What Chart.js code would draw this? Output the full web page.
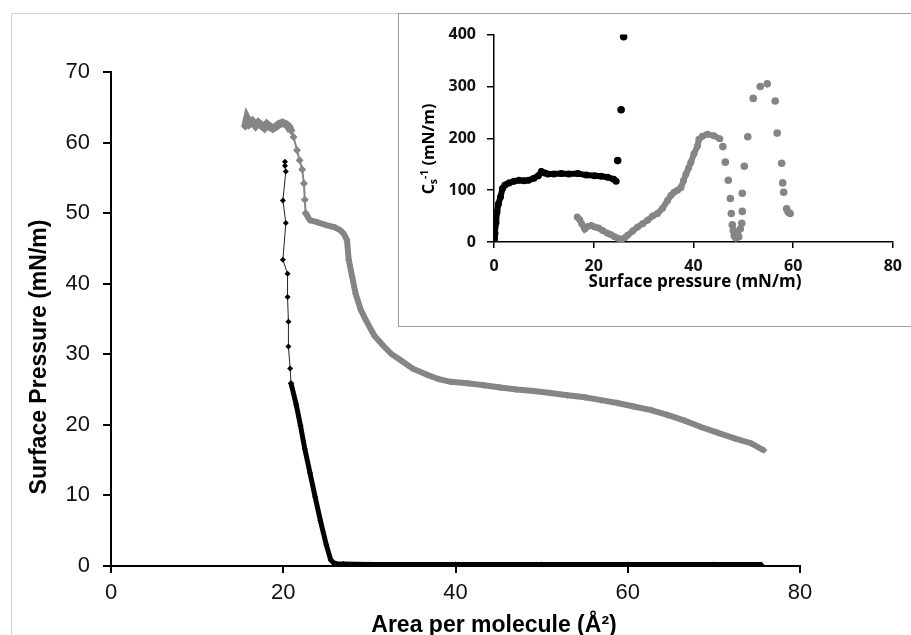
<!DOCTYPE html>
<html lang="en">
<head>
  <meta charset="UTF-8" />
  <title>Surface pressure isotherm</title>
  <script src="https://cdn.jsdelivr.net/npm/chart.js"></script>
  <style>
    body { margin: 0; background: #fff; width: 911px; height: 635px; overflow: hidden; position: relative; }
    #frame { position: absolute; left: 11px; top: 13px; width: 1000px; height: 700px; border: 1px solid #d2d2d2; }
    #mainChart { position: absolute; left: 0; top: 0; }
    #insetBox { position: absolute; left: 398px; top: 13px; width: 600px; height: 312px; border: 1px solid #9c9c9c; background: #fff; }
    #insetChart { position: absolute; left: 0; top: 0; }
  </style>
</head>
<body>

  <div id="frame"></div>
  <canvas id="mainChart" width="911" height="635"></canvas>
  <div id="insetBox">
    <canvas id="insetChart" width="512" height="312"></canvas>
  </div>

  <script>
    // ---- main isotherm: area per molecule vs surface pressure ----
    const mainXTicks = [0, 20, 40, 60, 80];
    const mainYTicks = [0, 10, 20, 30, 40, 50, 60, 70];

    // gray curve, noisy collapse region at the top
    const grayTopArea = [15.6, 15.8, 16.1, 16.4, 16.8, 17.1, 17.4, 17.8, 18.1, 18.5, 18.8, 19.2, 19.5, 19.9, 20.3, 20.6, 20.9];
    const grayTopPressure = [62.3, 63.4, 62.7, 63.0, 62.4, 62.8, 62.5, 62.1, 62.6, 62.2, 62.0, 62.3, 62.6, 62.8, 62.6, 62.3, 61.7];
    // gray curve, step down
    const graySparseArea = [20.9, 21.2, 21.6, 21.9, 22.2, 22.4, 22.5, 22.6];
    const graySparsePressure = [61.7, 60.8, 58.9, 57.5, 56.2, 54.2, 51.9, 50.0];
    // gray curve, plateau and expanded part
    const grayDenseArea = [22.6, 23.1, 24.0, 25.0, 26.0, 26.6, 27.0, 27.4, 27.6, 28.0, 28.4, 29.0, 29.7, 30.6, 31.7, 32.6, 33.6, 35.0, 36.7, 38.0, 39.4, 41.4, 43.3, 45.2, 47.1, 49.1, 51.0, 53.0, 55.0, 56.9, 58.8, 60.7, 62.7, 64.6, 66.6, 68.5, 70.4, 72.4, 74.3, 75.8];
    const grayDensePressure = [50.0, 49.0, 48.7, 48.3, 48.0, 47.6, 47.1, 46.2, 43.4, 41.0, 38.6, 36.3, 34.6, 32.6, 31.1, 30.0, 29.2, 28.0, 27.1, 26.5, 26.1, 25.9, 25.6, 25.3, 25.0, 24.8, 24.5, 24.2, 23.9, 23.5, 23.1, 22.6, 22.1, 21.4, 20.6, 19.7, 18.9, 18.1, 17.4, 16.4];

    // black curve, dense part
    const blackDenseArea = [75.5, 70.0, 60.0, 50.0, 40.0, 30.0, 27.0, 26.2, 25.8, 25.5, 25.0, 24.3, 23.7, 23.1, 22.5, 22.0, 21.5, 20.9];
    const blackDensePressure = [0.2, 0.2, 0.2, 0.2, 0.2, 0.2, 0.3, 0.3, 0.5, 0.9, 3.0, 6.5, 9.8, 13.2, 16.6, 19.9, 22.9, 25.9];
    // black curve, sparse points up to collapse
    const blackSparseArea = [20.9, 20.8, 20.6, 20.6, 20.5, 20.5, 19.96, 20.3, 19.96, 20.3, 20.2, 20.2];
    const blackSparsePressure = [25.9, 28.0, 31.1, 34.6, 38.1, 41.4, 43.4, 48.6, 51.8, 55.9, 56.7, 57.3];

    // ---- inset: compression modulus vs surface pressure ----
    const insetXTicks = [0, 20, 40, 60, 80];
    const insetYTicks = [0, 100, 200, 300, 400];

    const insetBlackPressure = [0.0, 0.1, 0.2, 0.4, 0.6, 0.9, 1.3, 1.7, 2.2, 3.0, 4.0, 5.0, 6.0, 6.9, 8.0, 8.9, 9.5, 10.2, 10.8, 12.0, 13.5, 15.0, 16.8, 18.5, 20.2, 21.5, 22.8, 24.0, 24.5];
    const insetBlackModulus = [0, 8, 17, 37, 58, 74, 87, 103, 110, 114, 117, 119, 118, 119, 123, 128, 136, 133, 131, 131, 132, 131, 132, 129, 128, 127, 125, 121, 117];
    const insetBlackPeakPressure = [24.8, 25.5, 26.0];
    const insetBlackPeakModulus = [157, 255, 396];

    const insetGrayPressure = [16.7, 17.2, 17.6, 18.2, 18.8, 19.5, 20.2, 21.0, 21.8, 22.8, 23.5, 24.2, 24.9, 25.5, 26.2, 26.8, 27.8, 28.8, 29.8, 30.8, 31.8, 32.8, 33.8, 34.8, 35.5, 36.1, 36.8, 37.5, 38.0, 38.5, 39.0, 39.5, 40.1, 40.8, 41.1, 41.8, 42.8, 44.1, 45.3];
    const insetGrayModulus = [48, 43, 35, 25, 30, 32, 29, 27, 22, 17, 14, 10, 7, 5, 8, 13, 21, 29, 35, 42, 50, 55, 65, 80, 90, 96, 100, 105, 118, 131, 142, 154, 170, 185, 198, 204, 208, 205, 199];
    const insetGraySparsePressure = [45.9, 46.4, 47.0, 47.4, 47.6, 47.8, 48.0, 48.2, 48.5, 48.8, 49.1, 49.4, 49.7, 49.8, 49.8, 50.2, 50.9, 52.0, 53.4, 54.8, 56.4, 56.8, 57.7, 57.9, 58.1, 58.7, 59.0, 59.4];
    const insetGraySparseModulus = [184, 154, 119, 84, 55, 33, 22, 12, 8, 18, 10, 25, 36, 59, 94, 146, 203, 277, 300, 305, 272, 210, 152, 114, 96, 64, 58, 55];

    const GRAY = "#858585";
    const ARIAL = '"Liberation Sans", Arial, sans-serif';
    const CALIBRI = '"Open Sans", Lato, sans-serif';

    function pts(xs, ys) {
      return xs.map((x, i) => ({ x: x, y: ys[i] }));
    }

    function fixedTicks(values) {
      return scale => { scale.ticks = values.map(v => ({ value: v })); };
    }

    // axis titles drawn by hand so they can sit off-centre and carry sub/superscripts
    function axisTitles(items) {
      return {
        id: "axisTitles",
        afterDraw(chart) {
          const ctx = chart.ctx;
          items.forEach(item => {
            ctx.save();
            ctx.translate(item.x, item.y);
            ctx.rotate(item.angle || 0);
            ctx.fillStyle = "#000";
            ctx.textBaseline = "alphabetic";
            ctx.textAlign = "left";
            const parts = item.parts.map(p => {
              const size = item.size * (p.scale || 1);
              const font = "bold " + size + "px " + item.family;
              ctx.font = font;
              return { text: p.text, font: font, shift: p.shift || 0, w: ctx.measureText(p.text).width };
            });
            let x = -parts.reduce((s, p) => s + p.w, 0) / 2;
            parts.forEach(p => {
              ctx.font = p.font;
              ctx.fillText(p.text, x, p.shift);
              x += p.w;
            });
            ctx.restore();
          });
        }
      };
    }

    function axisOptions(min, max, ticks, font, width, tickLen, pad, fit) {
      return {
        type: "linear",
        min: min,
        max: max,
        afterBuildTicks: fixedTicks(ticks),
        afterFit: fit,
        border: { display: true, color: "#000", width: width },
        grid: { drawOnChartArea: false, drawTicks: true, tickLength: tickLen, color: "#000", lineWidth: width },
        ticks: { color: "#111", padding: pad, font: font, maxRotation: 0 }
      };
    }

    new Chart(document.getElementById("mainChart"), {
      type: "scatter",
      data: {
        datasets: [
          {
            data: pts(grayDenseArea, grayDensePressure),
            showLine: true, borderColor: GRAY, borderWidth: 6,
            pointStyle: "rectRot", pointRadius: 3.5, pointBorderWidth: 0, backgroundColor: GRAY
          },
          {
            data: pts(graySparseArea, graySparsePressure),
            showLine: true, borderColor: GRAY, borderWidth: 2,
            pointStyle: "rectRot", pointRadius: 4, pointBorderWidth: 0, backgroundColor: GRAY
          },
          {
            data: pts(grayTopArea, grayTopPressure),
            showLine: true, borderColor: GRAY, borderWidth: 8,
            pointStyle: "rectRot", pointRadius: 4.5, pointBorderWidth: 0, backgroundColor: GRAY
          },
          {
            data: pts(blackDenseArea, blackDensePressure),
            showLine: true, borderColor: "#000", borderWidth: 5,
            pointStyle: "rectRot", pointRadius: 3, pointBorderWidth: 0, backgroundColor: "#000"
          },
          {
            data: pts(blackSparseArea, blackSparsePressure),
            showLine: true, borderColor: "#222", borderWidth: 1,
            pointStyle: "rectRot", pointRadius: 3, pointBorderWidth: 0, backgroundColor: "#000"
          }
        ]
      },
      options: {
        responsive: false,
        animation: false,
        devicePixelRatio: 1,
        layout: { padding: { left: 0, right: 111, top: 72, bottom: 0 } },
        scales: {
          x: axisOptions(0, 80, mainXTicks, { family: ARIAL, size: 22 }, 2, 7, 7, s => { s.height = 69; }),
          y: axisOptions(0, 70, mainYTicks, { family: ARIAL, size: 22 }, 2, 8, 13, s => { s.width = 111; })
        },
        plugins: {
          legend: { display: false },
          tooltip: { enabled: false }
        }
      },
      plugins: [axisTitles([
        { x: 494, y: 632, size: 23, family: ARIAL, parts: [{ text: "Area per molecule (Å²)" }] },
        { x: 46, y: 357, angle: -Math.PI / 2, size: 23, family: ARIAL, parts: [{ text: "Surface Pressure (mN/m)" }] }
      ])]
    });

    new Chart(document.getElementById("insetChart"), {
      type: "scatter",
      data: {
        datasets: [
          {
            data: pts(insetGrayPressure, insetGrayModulus),
            showLine: true, borderColor: GRAY, borderWidth: 6,
            pointRadius: 3.5, pointBorderWidth: 0, backgroundColor: GRAY
          },
          {
            data: pts(insetGraySparsePressure, insetGraySparseModulus),
            showLine: false, pointRadius: 3.8, pointBorderWidth: 0, backgroundColor: GRAY
          },
          {
            data: pts(insetBlackPressure, insetBlackModulus),
            showLine: true, borderColor: "#000", borderWidth: 6,
            pointRadius: 3.5, pointBorderWidth: 0, backgroundColor: "#000"
          },
          {
            data: pts(insetBlackPeakPressure, insetBlackPeakModulus),
            showLine: false, pointRadius: 3.8, pointBorderWidth: 0, backgroundColor: "#000"
          }
        ]
      },
      options: {
        responsive: false,
        animation: false,
        devicePixelRatio: 1,
        layout: { padding: { left: 0, right: 15, top: 19, bottom: 0 } },
        scales: {
          x: axisOptions(0, 80, insetXTicks, { family: CALIBRI, size: 16, weight: "bold" }, 1.5, 6, 9, s => { s.height = 84; }),
          y: axisOptions(0, 400, insetYTicks, { family: CALIBRI, size: 16, weight: "bold" }, 1.5, 7, 11, s => { s.width = 95; })
        },
        plugins: {
          legend: { display: false },
          tooltip: { enabled: false }
        }
      },
      plugins: [axisTitles([
        { x: 296, y: 273, size: 17, family: CALIBRI, parts: [{ text: "Surface pressure (mN/m)" }] },
        {
          x: 35, y: 135, angle: -Math.PI / 2, size: 16, family: CALIBRI,
          parts: [
            { text: "C" },
            { text: "s", scale: 0.65, shift: 3 },
            { text: "-1", scale: 0.65, shift: -6 },
            { text: " (mN/m)" }
          ]
        }
      ])]
    });
  </script>
</body>
</html>
